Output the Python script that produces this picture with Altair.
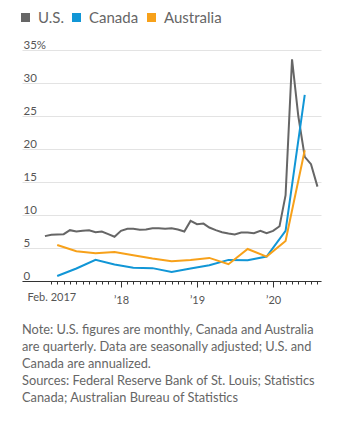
import altair as alt
import pandas as pd

# ---- data ----
us_months = pd.date_range("2017-01-01", "2020-08-01", freq="MS").strftime("%Y-%m-%d").tolist()
us_values = [6.8, 7.0, 7.05, 7.1, 7.7, 7.5, 7.6, 7.7, 7.4, 7.5, 7.1, 6.7,
             7.6, 7.9, 7.9, 7.75, 7.8, 8.0, 8.0, 7.9, 8.0, 7.8, 7.5, 9.1,
             8.6, 8.7, 8.1, 7.7, 7.4, 7.2, 7.05, 7.35, 7.35, 7.25, 7.6, 7.25,
             7.6, 8.3, 13.0, 33.6, 25.0, 18.8, 17.7, 14.3]

quarters = pd.date_range("2017-03-01", "2020-06-01", freq="3MS").strftime("%Y-%m-%d").tolist()
canada_values = [0.75, 1.9, 3.2, 2.5, 2.0, 1.95, 1.35, 1.9, 2.4, 3.2, 3.15, 3.7, 7.6, 28.2]
australia_values = [5.45, 4.5, 4.2, 4.4, 3.9, 3.4, 3.0, 3.2, 3.5, 2.55, 4.85, 3.7, 6.05, 19.8]

series = ["U.S.", "Canada", "Australia"]
colors = ["#666666", "#1196d6", "#f7a11a"]

y_ticks = [0, 5, 10, 15, 20, 25, 30, 35]

note_lines = [
    "Note: U.S. figures are monthly, Canada and Australia",
    "are quarterly. Data are seasonally adjusted; U.S. and",
    "Canada are annualized.",
    "Sources: Federal Reserve Bank of St. Louis; Statistics",
    "Canada; Australian Bureau of Statistics",
]

rows = []
for d, v in zip(us_months, us_values):
    rows.append({"date": d, "value": v, "country": "U.S."})
for d, v in zip(quarters, canada_values):
    rows.append({"date": d, "value": v, "country": "Canada"})
for d, v in zip(quarters, australia_values):
    rows.append({"date": d, "value": v, "country": "Australia"})
df = pd.DataFrame(rows)

tick_months = pd.date_range("2017-02-01", "2020-08-01", freq="MS")
tick_values = [alt.DateTime(year=t.year, month=t.month, date=1, utc=True) for t in tick_months]

FONT = "Lato"

label_expr = (
    "utcyear(datum.value) == 2017 && utcmonth(datum.value) == 1 ? 'Feb. 2017' : "
    "(utcmonth(datum.value) == 0 ? '\u2019' + slice(toString(utcyear(datum.value)), 2) : '')"
)

x = alt.X(
    "date:T",
    scale=alt.Scale(
        type="utc",
        domain=[alt.DateTime(year=2016, month=9, date=13, utc=True),
                alt.DateTime(year=2020, month=8, date=18, utc=True)],
    ),
    axis=alt.Axis(
        title=None,
        values=tick_values,
        labelExpr=label_expr,
        labelOverlap=False,
        labelFlush=False,
        grid=False,
        domainColor="#333333",
        domainWidth=1.2,
        tickColor="#333333",
        tickWidth=1,
        tickSize={"condition": {"test": "utcmonth(datum.value) == 0", "value": 6}, "value": 3},
        labelFont=FONT,
        labelFontSize=11,
        labelColor="#555555",
        labelPadding=7,
    ),
)

y = alt.Y(
    "value:Q",
    scale=alt.Scale(domain=[0, 35], nice=False),
    axis=alt.Axis(
        title=None,
        values=y_ticks,
        labelExpr="datum.value == 35 ? '35%' : datum.label",
        domain=False,
        ticks=False,
        tickSize=0,
        labelPadding=-1,
        labelAlign="left",
        labelBaseline="alphabetic",
        labelOffset=-2,
        gridColor="#e3e3e3",
        gridWidth=1,
        labelFont=FONT,
        labelFontSize=11.5,
        labelColor="#555555",
    ),
)

chart = (
    alt.Chart(df)
    .mark_line(strokeWidth=2)
    .encode(
        x=x,
        y=y,
        color=alt.Color(
            "country:N",
            scale=alt.Scale(domain=series, range=colors),
            legend=alt.Legend(
                title=None,
                orient="none",
                legendX=-4,
                legendY=-40,
                padding=0,
                direction="horizontal",
                gridAlign="none",
                symbolType="square",
                symbolSize=4,
                symbolStrokeWidth=7,
                symbolOpacity=1,
                labelFont=FONT,
                labelFontSize=15,
                labelColor="#666666",
                labelOffset=5,
                columnPadding=-3,
            ),
        ),
        detail="country:N",
    )
    .properties(
        width=299,
        height=231,
        padding={"left": 14, "top": 42, "right": 25, "bottom": 126},
        autosize=alt.AutoSizeParams(type="none"),
        title=alt.TitleParams(
            text=note_lines,
            orient="bottom",
            anchor="start",
            frame="group",
            font=FONT,
            fontSize=12.8,
            fontWeight="normal",
            color="#666666",
            lineHeight=17,
            offset=19,
        ),
    )
    .configure_view(stroke=None)
)

chart.save("out.html", embed_options={"renderer": "svg", "actions": False})
